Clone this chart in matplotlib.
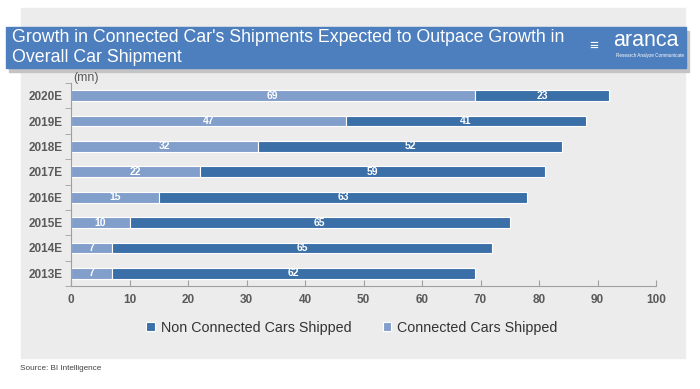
import numpy as np
import matplotlib.pyplot as plt
from matplotlib.patches import Rectangle

# shipments in millions, bottom row first
years = ['2013E', '2014E', '2015E', '2016E', '2017E', '2018E', '2019E', '2020E']
connected = [7, 7, 10, 15, 22, 32, 47, 69]
non_connected = [62, 65, 65, 63, 59, 52, 41, 23]

dark = '#3a6fa8'
light = '#829fcc'
grey_txt = '#5a5a5a'
plt.rcParams['font.family'] = ['Liberation Sans', 'DejaVu Sans']

fig = plt.figure(figsize=(7, 3.89), dpi=100)
fig.patch.set_facecolor('white')

# light grey panel behind everything
fig.patches.append(Rectangle((21/700, 1-358/389), (685-21)/700, (358-8)/389,
                             transform=fig.transFigure, color='#ececec', zorder=0))
# title banner with shadow
fig.patches.append(Rectangle((9/700, 1-72/389), 680/700, 41/389,
                             transform=fig.transFigure, color='#c4c4c4', zorder=1))
fig.patches.append(Rectangle((6/700, 1-68/389), 680/700, 41/389,
                             transform=fig.transFigure, color='#4d7ebd', zorder=2))
fig.text(12/700, 1-38/389, "Growth in Connected Car's Shipments Expected to Outpace Growth in",
         color='white', fontsize=12.8, va='center', ha='left', zorder=3)
fig.text(12/700, 1-57/389, "Overall Car Shipment",
         color='white', fontsize=12.8, va='center', ha='left', zorder=3)
fig.text(613/700, 1-41/389, "aranca", color='white', fontsize=15.5, va='center',
         ha='left', zorder=3)
fig.text(616/700, 1-56/389, "Research Analyze Communicate", color='white', fontsize=3.3,
         va='center', ha='left', zorder=3)
fig.text(594/700, 1-46/389, "\u2261", color='white', fontsize=11, va='center',
         ha='center', zorder=3)

ax = fig.add_axes([71/700, 1-286/389, (656-71)/700, (286-83)/389])
ax.set_zorder(5)
ax.set_facecolor('none')
y = np.arange(len(years))
ax.barh(y, connected, height=0.42, color=light, edgecolor='white', linewidth=0.8,
        label='Connected Cars Shipped')
ax.barh(y, non_connected, left=connected, height=0.42, color=dark, edgecolor='white',
        linewidth=0.8, label='Non Connected Cars Shipped')

for i in range(len(years)):
    ax.text(connected[i]/2, y[i], str(connected[i]), color='white', fontsize=7.5,
            fontweight='bold', ha='center', va='center')
    ax.text(connected[i] + non_connected[i]/2, y[i], str(non_connected[i]), color='white',
            fontsize=7.5, fontweight='bold', ha='center', va='center')

ax.set_xlim(0, 100)
ax.set_ylim(-0.5, len(years) - 0.5)
ax.set_xticks(np.arange(0, 101, 10))
ax.set_yticks(y)
ax.set_yticklabels(years)
ax.set_yticks(np.arange(-0.5, len(years), 1), minor=True)
ax.tick_params(axis='y', which='major', length=0, pad=6, labelsize=8.5, labelcolor=grey_txt)
ax.tick_params(axis='y', which='minor', length=4, direction='out', color='#a0a0a0')
ax.tick_params(axis='x', length=4, direction='in', color='#a0a0a0', pad=6,
               labelsize=8.5, labelcolor=grey_txt)
for lab in ax.get_xticklabels() + ax.get_yticklabels():
    lab.set_fontweight('bold')
for s in ['top', 'right']:
    ax.spines[s].set_visible(False)
for s in ['left', 'bottom']:
    ax.spines[s].set_color('#a0a0a0')

ax.text(0.3, len(years) - 0.52, '(mn)', color=grey_txt, fontsize=9, ha='left', va='bottom')

handles, labels = ax.get_legend_handles_labels()
fig.legend(handles[::-1], labels[::-1], loc='center', bbox_to_anchor=(352/700, 1-328/389),
           ncol=2, frameon=False, fontsize=10.3, handlelength=0.6, handleheight=0.6,
           handletextpad=0.4, columnspacing=2.2, labelcolor='#333333')

fig.text(20/700, 1-368/389, 'Source: BI Intelligence', fontsize=5.9, color='#444444',
         va='center', ha='left')

fig.savefig('out.png', dpi=100)
